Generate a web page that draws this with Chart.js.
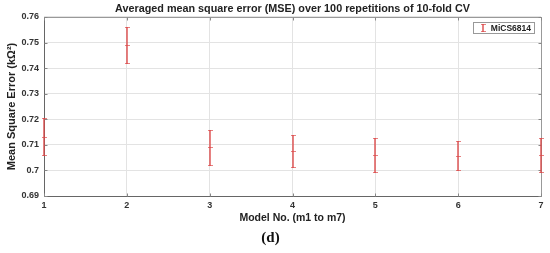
<!DOCTYPE html>
<html>
<head>
<meta charset="utf-8">
<script src="https://cdn.jsdelivr.net/npm/chart.js@4"></script>
<style>
html,body{margin:0;padding:0;background:#fff;}
#wrap{width:550px;height:253px;position:relative;}
</style>
</head>
<body>
<div id="wrap"><canvas id="c" width="550" height="253"></canvas></div>
<script>
const models = [1, 2, 3, 4, 5, 6, 7];
const meanMSE = [0.7132, 0.749, 0.709, 0.7077, 0.706, 0.7058, 0.706];
const errMSE = [0.0073, 0.0069, 0.0068, 0.0062, 0.0066, 0.0056, 0.0066];
const yTicks = [0.69, 0.7, 0.71, 0.72, 0.73, 0.74, 0.75, 0.76];
const seriesName = 'MiCS6814';
const titleText = 'Averaged mean square error (MSE) over 100 repetitions of 10-fold CV';
const xTitle = 'Model No. (m1 to m7)';
const yTitle = 'Mean Square Error (kΩ²)';
const panelLabel = '(d)';

const RED = 'rgba(220,70,70,0.68)';
const FONT = "'Liberation Sans', Arial, sans-serif";

function drawBar(ctx, px, top, bot) {
  ctx.fillRect(px - 1, top, 2, bot - top + 1);
  ctx.fillRect(px - 2, top, 5, 1);
  ctx.fillRect(px - 2, bot, 5, 1);
}

const errorBarPlugin = {
  id: 'errorBars',
  afterDraw(chart) {
    const ctx = chart.ctx;
    const a = chart.chartArea;
    const xs = chart.scales.x, ys = chart.scales.y;
    const L = Math.round(a.left) + 0.5, R = Math.round(a.right) + 0.5;
    const T = Math.round(a.top) + 0.5, B = Math.round(a.bottom) + 0.5;
    ctx.save();
    ctx.lineWidth = 1;
    ctx.strokeStyle = '#999';
    ctx.beginPath();
    ctx.moveTo(L, T); ctx.lineTo(R, T); ctx.lineTo(R, B);
    ctx.stroke();
    ctx.strokeStyle = '#666';
    ctx.beginPath();
    ctx.moveTo(L, T); ctx.lineTo(L, B); ctx.lineTo(R, B);
    ctx.stroke();
    // inward ticks
    ctx.strokeStyle = '#888';
    ctx.beginPath();
    yTicks.forEach(v => {
      const py = Math.round(ys.getPixelForValue(v)) + 0.5;
      ctx.moveTo(L, py); ctx.lineTo(L + 3, py);
      ctx.moveTo(R, py); ctx.lineTo(R - 3, py);
    });
    models.forEach(m => {
      const px = Math.round(xs.getPixelForValue(m)) + 0.5;
      ctx.moveTo(px, B); ctx.lineTo(px, B - 3);
      ctx.moveTo(px, T); ctx.lineTo(px, T + 3);
    });
    ctx.stroke();
    // error bars
    ctx.fillStyle = RED;
    models.forEach((m, i) => {
      const px = Math.round(xs.getPixelForValue(m));
      const top = Math.round(ys.getPixelForValue(meanMSE[i] + errMSE[i]));
      const bot = Math.round(ys.getPixelForValue(meanMSE[i] - errMSE[i]));
      drawBar(ctx, px, top, bot);
      const my = Math.round(ys.getPixelForValue(meanMSE[i]));
      ctx.fillRect(px - 2, my, 5, 1);
    });
    // legend
    const lx = Math.round(a.right) - 68, ly = Math.round(a.top) + 5, lw = 61, lh = 11;
    ctx.fillStyle = '#fff';
    ctx.fillRect(lx, ly, lw, lh);
    ctx.strokeStyle = '#999';
    ctx.strokeRect(lx + 0.5, ly + 0.5, lw, lh);
    ctx.fillStyle = RED;
    drawBar(ctx, lx + 10, ly + 2, ly + lh - 2);
    ctx.fillStyle = '#222';
    ctx.font = 'bold 8.5px ' + FONT;
    ctx.textBaseline = 'middle';
    ctx.textAlign = 'right';
    ctx.fillText(chart.data.datasets[0].label, lx + lw - 3, ly + lh / 2 + 1);
    ctx.restore();
  }
};

new Chart(document.getElementById('c'), {
  type: 'scatter',
  data: {
    datasets: [{
      label: seriesName,
      data: models.map((m, i) => ({x: m, y: meanMSE[i]})),
      pointRadius: 0,
      borderColor: RED,
      backgroundColor: RED
    }]
  },
  options: {
    responsive: false,
    animation: false,
    devicePixelRatio: 1,
    events: [],
    layout: {padding: {left: 0, right: 9, top: 0, bottom: 0}},
    plugins: {
      legend: {display: false},
      tooltip: {enabled: false},
      title: {
        display: true,
        fullSize: false,
        text: titleText,
        color: '#222',
        font: {family: FONT, size: 10.8, weight: 'bold'},
        padding: {top: 3, bottom: 1}
      },
      subtitle: {
        display: true,
        position: 'bottom',
        text: panelLabel,
        color: '#111',
        font: {family: "'Liberation Serif', 'Times New Roman', serif", size: 15, weight: 'bold'},
        padding: {top: 5, bottom: 6}
      }
    },
    scales: {
      x: {
        type: 'linear',
        min: 1, max: 7,
        afterFit(s) { s.height = 28; },
        afterBuildTicks(s) { s.ticks = models.map(v => ({value: v})); },
        grid: {color: '#e3e3e3', drawTicks: false},
        border: {display: false},
        ticks: {
          color: '#333', padding: 4,
          font: {family: FONT, size: 9, weight: 'bold'},
          callback: v => String(v)
        },
        title: {
          display: true, text: xTitle, color: '#222',
          font: {family: FONT, size: 10.5, weight: 'bold'},
          padding: {top: 0, bottom: 0}
        }
      },
      y: {
        min: 0.69, max: 0.76,
        afterFit(s) { s.width = 44; },
        afterBuildTicks(s) { s.ticks = yTicks.map(v => ({value: v})); },
        grid: {color: '#e3e3e3', drawTicks: false},
        border: {display: false},
        ticks: {
          color: '#333', padding: 5,
          font: {family: FONT, size: 9, weight: 'bold'},
          callback: v => String(parseFloat(v.toFixed(2)))
        },
        title: {
          display: true, text: yTitle, color: '#222',
          font: {family: FONT, size: 11, weight: 'bold'},
          padding: {top: 5, bottom: 0}
        }
      }
    }
  },
  plugins: [errorBarPlugin]
});
</script>
</body>
</html>
